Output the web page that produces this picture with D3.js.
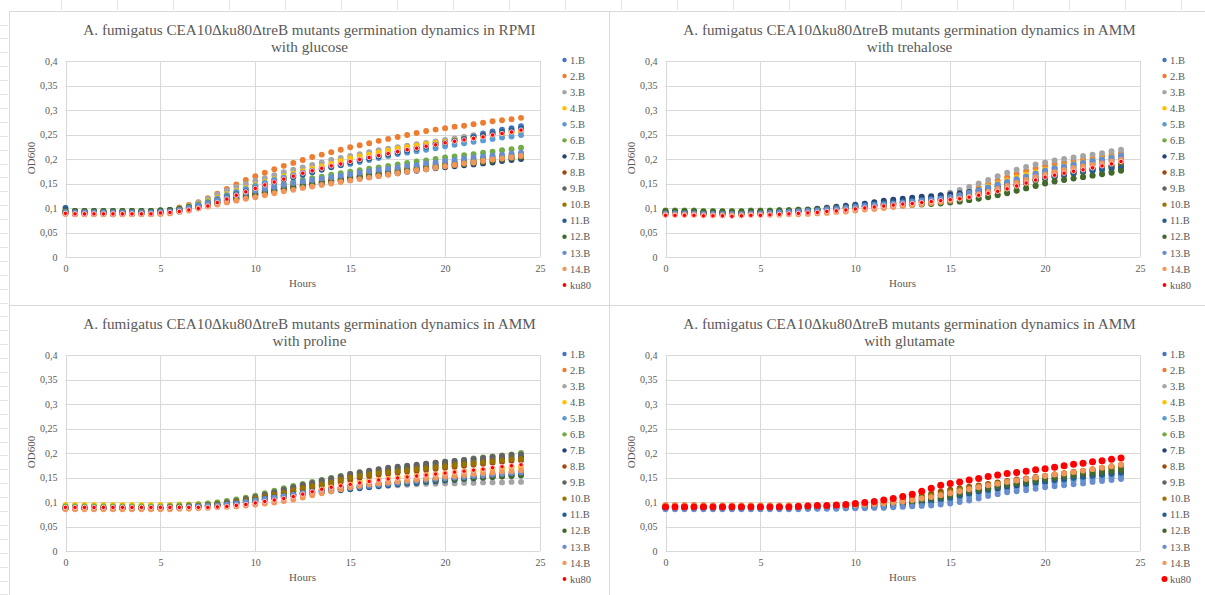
<!DOCTYPE html>
<html>
<head>
<meta charset="utf-8">
<script src="https://cdn.jsdelivr.net/npm/d3@7"></script>
<style>
  html, body { margin: 0; padding: 0; background: #ffffff; }
  svg { display: block; font-family: "Liberation Serif", "Times New Roman", serif; }
</style>
</head>
<body>
<svg id="chart" width="1205" height="595"></svg>
<script>
// Sampling times (h)
const hours = [0,0.5,1,1.5,2,2.5,3,3.5,4,4.5,5,5.5,6,6.5,7,7.5,8,8.5,9,9.5,10,10.5,11,11.5,12,12.5,13,13.5,14,14.5,15,15.5,16,16.5,17,17.5,18,18.5,19,19.5,20,20.5,21,21.5,22,22.5,23,23.5,24];

const strains = ["1.B","2.B","3.B","4.B","5.B","6.B","7.B","8.B","9.B","10.B","11.B","12.B","13.B","14.B","ku80"];
const strainColors = ["#4472C4","#ED7D31","#A5A5A5","#FFC000","#5B9BD5","#70AD47","#264478","#9E480E","#636363","#997300","#255E91","#43682B","#698ED0","#F1975A","#FF0000"];

const yTickValues = [0,0.05,0.1,0.15,0.2,0.25,0.3,0.35,0.4];
const xTickValues = [0,5,10,15,20,25];

const titleMain = [
  "A. fumigatus CEA10\u0394ku80\u0394treB mutants germination dynamics in RPMI",
  "A. fumigatus CEA10\u0394ku80\u0394treB mutants germination dynamics in AMM",
  "A. fumigatus CEA10\u0394ku80\u0394treB mutants germination dynamics in AMM",
  "A. fumigatus CEA10\u0394ku80\u0394treB mutants germination dynamics in AMM"
];
const titleSub = ["with glucose","with trehalose","with proline","with glutamate"];

// OD600, one row per strain (1.B … 14.B, ku80), one value per sampling time
const odGlucoseRPMI = [
  [0.093,0.092,0.092,0.092,0.092,0.091,0.092,0.092,0.092,0.092,0.093, 0.094,0.097,0.101,0.106,0.112,0.119,0.126,0.133,0.139,0.145, 0.151,0.157,0.162,0.167,0.172,0.177,0.182,0.187,0.191,0.196, 0.200,0.204,0.208,0.212,0.216,0.220,0.224,0.228,0.232,0.236, 0.240,0.244,0.248,0.252,0.256,0.260,0.263,0.267],
  [0.092,0.091,0.091,0.091,0.091,0.090,0.091,0.091,0.091,0.092,0.093, 0.096,0.101,0.106,0.112,0.120,0.129,0.139,0.148,0.157,0.165, 0.172,0.179,0.186,0.192,0.198,0.204,0.209,0.214,0.219,0.224, 0.228,0.232,0.237,0.241,0.245,0.249,0.253,0.257,0.260,0.263, 0.266,0.268,0.271,0.274,0.277,0.279,0.281,0.284],
  [0.090,0.089,0.089,0.089,0.089,0.088,0.089,0.089,0.089,0.089,0.090, 0.093,0.098,0.104,0.111,0.119,0.127,0.136,0.143,0.149,0.155, 0.161,0.167,0.173,0.178,0.183,0.188,0.193,0.198,0.202,0.206, 0.210,0.214,0.218,0.221,0.224,0.227,0.230,0.233,0.236,0.239, 0.242,0.245,0.247,0.250,0.252,0.254,0.256,0.258],
  [0.095,0.094,0.094,0.094,0.094,0.094,0.094,0.094,0.094,0.094,0.095, 0.096,0.099,0.103,0.108,0.114,0.121,0.128,0.135,0.141,0.147, 0.153,0.159,0.165,0.170,0.175,0.180,0.185,0.190,0.196,0.201, 0.205,0.209,0.213,0.217,0.221,0.224,0.227,0.230,0.233,0.235, 0.238,0.241,0.244,0.246,0.249,0.251,0.253,0.255],
  [0.092,0.091,0.091,0.091,0.091,0.091,0.091,0.091,0.091,0.091,0.092, 0.094,0.097,0.101,0.106,0.112,0.119,0.126,0.133,0.139,0.145, 0.151,0.157,0.162,0.167,0.172,0.176,0.180,0.184,0.187,0.190, 0.194,0.198,0.202,0.206,0.210,0.213,0.216,0.219,0.222,0.226, 0.229,0.232,0.235,0.238,0.241,0.244,0.246,0.249],
  [0.094,0.094,0.094,0.094,0.094,0.094,0.094,0.094,0.094,0.094,0.095, 0.096,0.099,0.103,0.107,0.112,0.117,0.123,0.128,0.132,0.136, 0.140,0.145,0.149,0.153,0.157,0.161,0.164,0.168,0.171,0.174, 0.177,0.180,0.183,0.186,0.189,0.192,0.195,0.197,0.200,0.203, 0.205,0.208,0.210,0.213,0.215,0.218,0.220,0.223],
  [0.091,0.090,0.090,0.090,0.090,0.090,0.090,0.090,0.090,0.090,0.091, 0.092,0.094,0.097,0.101,0.105,0.109,0.113,0.117,0.121,0.125, 0.129,0.133,0.137,0.140,0.143,0.146,0.149,0.152,0.155,0.157, 0.160,0.163,0.166,0.169,0.171,0.174,0.176,0.179,0.181,0.183, 0.185,0.187,0.189,0.191,0.193,0.196,0.198,0.200],
  [0.090,0.089,0.089,0.089,0.089,0.089,0.089,0.089,0.089,0.089,0.090, 0.091,0.094,0.097,0.101,0.105,0.110,0.115,0.119,0.123,0.127, 0.131,0.135,0.139,0.142,0.145,0.148,0.151,0.154,0.157,0.160, 0.163,0.166,0.169,0.171,0.174,0.176,0.179,0.181,0.184,0.186, 0.188,0.190,0.193,0.195,0.197,0.200,0.202,0.205],
  [0.089,0.088,0.088,0.088,0.088,0.087,0.088,0.088,0.088,0.088,0.089, 0.091,0.094,0.098,0.102,0.107,0.112,0.117,0.121,0.125,0.129, 0.133,0.137,0.141,0.144,0.147,0.150,0.153,0.156,0.159,0.162, 0.165,0.168,0.171,0.173,0.176,0.178,0.181,0.183,0.186,0.188, 0.191,0.193,0.195,0.198,0.200,0.202,0.204,0.207],
  [0.093,0.092,0.092,0.092,0.092,0.092,0.092,0.092,0.092,0.092,0.093, 0.094,0.097,0.100,0.104,0.109,0.114,0.119,0.124,0.128,0.132, 0.136,0.140,0.144,0.147,0.150,0.153,0.156,0.159,0.162,0.165, 0.168,0.171,0.174,0.176,0.179,0.181,0.184,0.186,0.189,0.191, 0.194,0.196,0.198,0.201,0.203,0.205,0.207,0.210],
  [0.100,0.094,0.094,0.094,0.094,0.094,0.094,0.094,0.094,0.094,0.095, 0.096,0.098,0.101,0.105,0.110,0.116,0.122,0.128,0.134,0.140, 0.146,0.152,0.158,0.163,0.168,0.173,0.178,0.183,0.188,0.193, 0.197,0.201,0.205,0.209,0.213,0.217,0.221,0.225,0.229,0.233, 0.237,0.241,0.245,0.249,0.252,0.255,0.259,0.262],
  [0.094,0.094,0.094,0.094,0.094,0.094,0.094,0.094,0.094,0.094,0.095, 0.096,0.098,0.101,0.104,0.108,0.112,0.116,0.120,0.124,0.128, 0.132,0.136,0.139,0.142,0.145,0.148,0.151,0.154,0.157,0.160, 0.163,0.165,0.168,0.171,0.173,0.176,0.178,0.181,0.183,0.185, 0.188,0.190,0.192,0.194,0.196,0.199,0.201,0.203],
  [0.092,0.091,0.091,0.091,0.091,0.091,0.091,0.091,0.091,0.091,0.092, 0.093,0.096,0.100,0.105,0.110,0.116,0.121,0.126,0.131,0.135, 0.139,0.143,0.147,0.151,0.154,0.157,0.160,0.163,0.166,0.169, 0.172,0.175,0.178,0.180,0.183,0.186,0.188,0.191,0.193,0.196, 0.198,0.201,0.203,0.205,0.207,0.209,0.211,0.213],
  [0.088,0.087,0.087,0.087,0.087,0.087,0.087,0.087,0.087,0.087,0.088, 0.089,0.092,0.095,0.099,0.103,0.107,0.111,0.115,0.119,0.122, 0.126,0.130,0.134,0.137,0.141,0.144,0.147,0.150,0.153,0.156, 0.159,0.162,0.165,0.168,0.171,0.174,0.177,0.179,0.182,0.185, 0.188,0.191,0.193,0.196,0.199,0.201,0.203,0.206],
  [0.089,0.088,0.088,0.088,0.088,0.088,0.088,0.088,0.088,0.088,0.090, 0.091,0.093,0.096,0.099,0.104,0.111,0.118,0.126,0.133,0.140, 0.147,0.153,0.159,0.165,0.171,0.176,0.181,0.186,0.190,0.195, 0.199,0.203,0.207,0.211,0.215,0.219,0.222,0.226,0.229,0.233, 0.236,0.239,0.242,0.245,0.249,0.252,0.255,0.259]
];

const odTrehaloseAMM = [
  [0.090,0.090,0.090,0.090,0.089,0.089,0.089,0.089,0.089,0.090,0.090, 0.091,0.092,0.093,0.094,0.095,0.097,0.098,0.100,0.101,0.103, 0.104,0.106,0.108,0.110,0.112,0.114,0.115,0.117,0.119,0.121, 0.125,0.129,0.134,0.139,0.144,0.150,0.155,0.160,0.166,0.171, 0.175,0.179,0.183,0.186,0.190,0.193,0.197,0.200],
  [0.088,0.088,0.088,0.088,0.087,0.087,0.087,0.087,0.087,0.088,0.088, 0.089,0.090,0.091,0.092,0.093,0.095,0.096,0.098,0.099,0.101, 0.103,0.105,0.107,0.109,0.111,0.113,0.115,0.117,0.119,0.123, 0.129,0.135,0.142,0.149,0.156,0.163,0.170,0.176,0.181,0.186, 0.190,0.193,0.196,0.199,0.202,0.205,0.209,0.212],
  [0.092,0.092,0.092,0.092,0.091,0.091,0.091,0.091,0.091,0.092,0.092, 0.093,0.094,0.095,0.096,0.097,0.099,0.101,0.103,0.105,0.107, 0.109,0.111,0.113,0.115,0.117,0.119,0.121,0.123,0.125,0.131, 0.137,0.143,0.150,0.157,0.165,0.172,0.178,0.184,0.189,0.193, 0.197,0.200,0.203,0.206,0.209,0.212,0.216,0.219],
  [0.091,0.091,0.091,0.091,0.090,0.090,0.090,0.090,0.090,0.091,0.091, 0.092,0.092,0.093,0.094,0.095,0.097,0.098,0.100,0.101,0.103, 0.105,0.106,0.108,0.110,0.112,0.114,0.116,0.117,0.119,0.122, 0.127,0.132,0.138,0.144,0.150,0.156,0.162,0.168,0.173,0.178, 0.182,0.186,0.190,0.193,0.197,0.200,0.204,0.207],
  [0.090,0.090,0.090,0.090,0.089,0.089,0.089,0.089,0.089,0.090,0.090, 0.091,0.091,0.092,0.093,0.094,0.096,0.097,0.099,0.100,0.102, 0.104,0.106,0.108,0.110,0.112,0.114,0.116,0.118,0.120,0.123, 0.127,0.132,0.137,0.142,0.148,0.153,0.159,0.164,0.170,0.175, 0.180,0.184,0.188,0.191,0.195,0.198,0.202,0.205],
  [0.095,0.095,0.095,0.095,0.094,0.094,0.094,0.094,0.094,0.095,0.095, 0.095,0.096,0.096,0.097,0.097,0.098,0.099,0.100,0.101,0.102, 0.103,0.104,0.105,0.105,0.106,0.107,0.108,0.109,0.110,0.112, 0.114,0.117,0.120,0.124,0.128,0.132,0.136,0.141,0.146,0.151, 0.155,0.158,0.161,0.164,0.167,0.170,0.174,0.178],
  [0.091,0.091,0.091,0.091,0.090,0.090,0.090,0.090,0.090,0.091,0.091, 0.092,0.093,0.094,0.095,0.096,0.098,0.100,0.102,0.104,0.106, 0.109,0.112,0.115,0.117,0.119,0.121,0.123,0.124,0.126,0.128, 0.130,0.133,0.136,0.140,0.144,0.148,0.153,0.157,0.162,0.166, 0.170,0.173,0.176,0.178,0.180,0.182,0.184,0.186],
  [0.089,0.089,0.089,0.089,0.088,0.088,0.088,0.088,0.088,0.089,0.089, 0.090,0.091,0.092,0.093,0.094,0.095,0.097,0.098,0.100,0.101, 0.103,0.105,0.106,0.108,0.110,0.111,0.113,0.114,0.116,0.118, 0.121,0.124,0.128,0.132,0.137,0.142,0.147,0.152,0.157,0.162, 0.166,0.170,0.173,0.176,0.180,0.183,0.187,0.190],
  [0.092,0.092,0.092,0.092,0.091,0.091,0.091,0.091,0.091,0.092,0.092, 0.093,0.093,0.094,0.095,0.096,0.097,0.099,0.100,0.102,0.103, 0.105,0.106,0.108,0.109,0.111,0.112,0.114,0.115,0.117,0.119, 0.122,0.125,0.129,0.133,0.137,0.142,0.147,0.152,0.157,0.161, 0.165,0.168,0.172,0.175,0.178,0.181,0.185,0.188],
  [0.090,0.090,0.090,0.090,0.089,0.089,0.089,0.089,0.089,0.090,0.090, 0.091,0.091,0.092,0.093,0.094,0.095,0.096,0.098,0.099,0.101, 0.102,0.104,0.105,0.107,0.108,0.110,0.111,0.113,0.115,0.117, 0.120,0.123,0.127,0.131,0.135,0.140,0.145,0.150,0.155,0.159, 0.163,0.166,0.170,0.173,0.176,0.179,0.182,0.185],
  [0.091,0.091,0.091,0.091,0.090,0.090,0.090,0.090,0.090,0.091,0.091, 0.092,0.092,0.093,0.094,0.095,0.097,0.098,0.100,0.102,0.104, 0.106,0.108,0.110,0.112,0.114,0.116,0.117,0.119,0.121,0.123, 0.125,0.128,0.131,0.135,0.139,0.143,0.148,0.153,0.157,0.161, 0.165,0.168,0.171,0.174,0.176,0.178,0.180,0.182],
  [0.094,0.094,0.094,0.094,0.093,0.093,0.093,0.093,0.093,0.094,0.094, 0.094,0.095,0.095,0.096,0.096,0.097,0.098,0.099,0.100,0.101, 0.101,0.102,0.103,0.104,0.105,0.106,0.107,0.108,0.109,0.111, 0.113,0.116,0.119,0.122,0.126,0.130,0.135,0.140,0.145,0.150, 0.154,0.157,0.160,0.163,0.166,0.169,0.172,0.176],
  [0.089,0.089,0.089,0.089,0.088,0.088,0.088,0.088,0.088,0.089,0.089, 0.090,0.091,0.092,0.093,0.094,0.095,0.097,0.098,0.100,0.102, 0.104,0.106,0.107,0.109,0.111,0.113,0.115,0.117,0.119,0.122, 0.126,0.131,0.136,0.141,0.147,0.152,0.158,0.164,0.170,0.176, 0.181,0.185,0.189,0.192,0.196,0.199,0.203,0.207],
  [0.086,0.086,0.086,0.086,0.085,0.085,0.085,0.085,0.085,0.086,0.086, 0.086,0.086,0.087,0.087,0.088,0.089,0.090,0.092,0.093,0.095, 0.097,0.098,0.100,0.102,0.104,0.106,0.108,0.110,0.112,0.115, 0.119,0.123,0.128,0.133,0.139,0.145,0.151,0.157,0.163,0.168, 0.173,0.177,0.181,0.185,0.188,0.191,0.195,0.198],
  [0.085,0.085,0.085,0.085,0.084,0.084,0.084,0.083,0.084,0.085,0.085, 0.086,0.087,0.088,0.089,0.090,0.091,0.093,0.094,0.096,0.098, 0.100,0.102,0.104,0.106,0.108,0.109,0.111,0.113,0.115,0.117, 0.119,0.122,0.126,0.130,0.134,0.139,0.145,0.151,0.157,0.163, 0.167,0.171,0.175,0.178,0.182,0.186,0.190,0.195]
];

const odProlineAMM = [
  [0.088,0.088,0.088,0.088,0.088,0.088,0.088,0.088,0.088,0.088,0.088, 0.089,0.089,0.090,0.091,0.092,0.093,0.095,0.097,0.100,0.103, 0.106,0.109,0.112,0.115,0.118,0.120,0.122,0.124,0.126,0.128, 0.130,0.132,0.134,0.136,0.138,0.140,0.141,0.142,0.143,0.145, 0.146,0.148,0.149,0.151,0.152,0.154,0.155,0.157],
  [0.087,0.087,0.087,0.087,0.087,0.087,0.087,0.087,0.087,0.087,0.087, 0.088,0.089,0.090,0.091,0.092,0.094,0.096,0.099,0.102,0.105, 0.108,0.111,0.114,0.117,0.120,0.123,0.125,0.127,0.129,0.131, 0.133,0.135,0.137,0.139,0.141,0.142,0.144,0.146,0.147,0.149, 0.150,0.152,0.153,0.155,0.156,0.158,0.159,0.161],
  [0.087,0.087,0.087,0.087,0.087,0.087,0.087,0.087,0.087,0.087,0.087, 0.088,0.088,0.089,0.090,0.091,0.092,0.094,0.096,0.099,0.102, 0.105,0.108,0.111,0.114,0.117,0.120,0.123,0.125,0.127,0.128, 0.130,0.131,0.132,0.133,0.134,0.135,0.136,0.137,0.137,0.138, 0.138,0.139,0.139,0.140,0.140,0.140,0.141,0.141],
  [0.094,0.094,0.094,0.094,0.094,0.094,0.094,0.094,0.094,0.094,0.094, 0.094,0.095,0.095,0.096,0.097,0.099,0.101,0.104,0.107,0.110, 0.113,0.116,0.119,0.122,0.125,0.128,0.131,0.134,0.137,0.140, 0.142,0.144,0.146,0.148,0.150,0.152,0.154,0.156,0.157,0.159, 0.161,0.163,0.164,0.166,0.168,0.169,0.171,0.172],
  [0.089,0.089,0.089,0.089,0.089,0.089,0.089,0.089,0.089,0.089,0.089, 0.089,0.090,0.091,0.092,0.093,0.094,0.096,0.098,0.101,0.104, 0.107,0.110,0.113,0.116,0.118,0.120,0.122,0.124,0.126,0.128, 0.130,0.132,0.134,0.136,0.138,0.140,0.142,0.143,0.145,0.146, 0.148,0.149,0.151,0.152,0.154,0.155,0.157,0.158],
  [0.091,0.091,0.091,0.091,0.091,0.091,0.091,0.091,0.091,0.091,0.091, 0.092,0.093,0.094,0.095,0.097,0.099,0.102,0.105,0.109,0.113, 0.118,0.123,0.128,0.133,0.137,0.141,0.145,0.149,0.153,0.157, 0.160,0.163,0.166,0.168,0.171,0.173,0.175,0.178,0.180,0.182, 0.184,0.186,0.189,0.191,0.193,0.195,0.197,0.200],
  [0.087,0.087,0.087,0.087,0.087,0.087,0.087,0.087,0.087,0.087,0.087, 0.088,0.089,0.090,0.091,0.093,0.095,0.097,0.100,0.104,0.108, 0.113,0.118,0.123,0.128,0.132,0.136,0.140,0.144,0.148,0.152, 0.156,0.159,0.162,0.165,0.167,0.169,0.171,0.173,0.175,0.177, 0.179,0.181,0.183,0.185,0.187,0.189,0.191,0.192],
  [0.088,0.088,0.088,0.088,0.088,0.088,0.088,0.088,0.088,0.088,0.088, 0.089,0.090,0.091,0.092,0.093,0.095,0.097,0.100,0.103,0.106, 0.110,0.114,0.118,0.122,0.126,0.130,0.134,0.138,0.142,0.146, 0.150,0.153,0.156,0.158,0.160,0.162,0.164,0.166,0.168,0.170, 0.172,0.174,0.176,0.178,0.180,0.182,0.184,0.185],
  [0.088,0.088,0.088,0.088,0.088,0.088,0.088,0.088,0.088,0.088,0.088, 0.089,0.090,0.091,0.092,0.094,0.096,0.099,0.102,0.106,0.110, 0.115,0.120,0.125,0.130,0.135,0.139,0.144,0.148,0.152,0.157, 0.161,0.164,0.167,0.170,0.172,0.174,0.176,0.178,0.180,0.182, 0.184,0.186,0.188,0.190,0.192,0.194,0.196,0.197],
  [0.088,0.088,0.088,0.088,0.088,0.088,0.088,0.088,0.088,0.088,0.088, 0.089,0.090,0.091,0.092,0.093,0.095,0.097,0.100,0.103,0.107, 0.111,0.115,0.119,0.124,0.128,0.132,0.136,0.140,0.145,0.150, 0.153,0.156,0.159,0.161,0.163,0.165,0.167,0.169,0.171,0.173, 0.175,0.177,0.179,0.181,0.183,0.185,0.187,0.188],
  [0.087,0.087,0.087,0.087,0.087,0.087,0.087,0.087,0.087,0.087,0.087, 0.088,0.088,0.089,0.090,0.091,0.092,0.094,0.096,0.098,0.101, 0.104,0.107,0.110,0.113,0.116,0.118,0.120,0.122,0.124,0.126, 0.128,0.130,0.132,0.134,0.136,0.138,0.139,0.141,0.142,0.144, 0.145,0.147,0.148,0.150,0.151,0.153,0.154,0.156],
  [0.088,0.088,0.088,0.088,0.088,0.088,0.088,0.088,0.088,0.088,0.088, 0.089,0.089,0.090,0.091,0.092,0.094,0.096,0.098,0.101,0.104, 0.107,0.110,0.113,0.116,0.119,0.122,0.125,0.128,0.130,0.132, 0.134,0.135,0.137,0.138,0.140,0.141,0.142,0.143,0.145,0.146, 0.147,0.148,0.149,0.150,0.151,0.152,0.153,0.154],
  [0.088,0.088,0.088,0.088,0.088,0.088,0.088,0.088,0.088,0.088,0.088, 0.088,0.089,0.090,0.091,0.092,0.093,0.095,0.097,0.100,0.103, 0.106,0.109,0.112,0.115,0.118,0.121,0.123,0.125,0.127,0.129, 0.131,0.133,0.135,0.137,0.139,0.141,0.143,0.145,0.147,0.148, 0.150,0.151,0.153,0.154,0.156,0.157,0.159,0.160],
  [0.085,0.085,0.085,0.085,0.085,0.085,0.085,0.085,0.085,0.085,0.085, 0.085,0.086,0.086,0.087,0.088,0.089,0.090,0.091,0.093,0.095, 0.097,0.099,0.102,0.105,0.109,0.114,0.118,0.122,0.126,0.130, 0.133,0.136,0.138,0.140,0.142,0.144,0.146,0.148,0.150,0.152, 0.153,0.155,0.157,0.159,0.160,0.162,0.163,0.165],
  [0.089,0.089,0.089,0.089,0.089,0.089,0.089,0.089,0.089,0.089,0.089, 0.089,0.089,0.089,0.089,0.089,0.090,0.091,0.093,0.095,0.098, 0.101,0.104,0.107,0.111,0.116,0.121,0.126,0.130,0.133,0.136, 0.139,0.142,0.145,0.147,0.149,0.151,0.153,0.155,0.157,0.159, 0.161,0.163,0.165,0.167,0.170,0.172,0.174,0.176]
];

const odGlutamateAMM = [
  [0.087,0.087,0.087,0.087,0.087,0.087,0.087,0.087,0.087,0.087,0.087, 0.087,0.087,0.087,0.087,0.087,0.087,0.088,0.088,0.088,0.089, 0.089,0.090,0.091,0.092,0.094,0.096,0.098,0.101,0.104,0.107, 0.111,0.115,0.119,0.123,0.126,0.129,0.132,0.135,0.137,0.140, 0.142,0.144,0.146,0.148,0.150,0.152,0.154,0.155],
  [0.094,0.094,0.094,0.094,0.094,0.093,0.093,0.093,0.093,0.093,0.093, 0.093,0.093,0.093,0.093,0.093,0.093,0.093,0.093,0.093,0.094, 0.095,0.096,0.098,0.100,0.102,0.105,0.108,0.111,0.115,0.119, 0.123,0.127,0.130,0.134,0.137,0.140,0.143,0.146,0.149,0.152, 0.155,0.158,0.161,0.163,0.166,0.169,0.172,0.175],
  [0.090,0.090,0.090,0.090,0.090,0.090,0.090,0.090,0.090,0.090,0.090, 0.090,0.090,0.090,0.090,0.090,0.090,0.090,0.091,0.091,0.092, 0.093,0.094,0.096,0.098,0.100,0.103,0.106,0.109,0.113,0.117, 0.120,0.124,0.127,0.130,0.133,0.136,0.139,0.142,0.145,0.148, 0.151,0.153,0.156,0.158,0.161,0.163,0.166,0.168],
  [0.092,0.092,0.092,0.092,0.092,0.092,0.092,0.092,0.092,0.092,0.092, 0.092,0.092,0.092,0.092,0.092,0.092,0.092,0.092,0.093,0.093, 0.094,0.095,0.097,0.099,0.101,0.104,0.107,0.110,0.114,0.118, 0.121,0.125,0.128,0.131,0.134,0.137,0.140,0.143,0.146,0.149, 0.152,0.155,0.157,0.160,0.163,0.165,0.168,0.170],
  [0.086,0.086,0.086,0.086,0.086,0.086,0.086,0.086,0.086,0.086,0.086, 0.086,0.086,0.086,0.086,0.086,0.087,0.087,0.087,0.087,0.088, 0.088,0.089,0.090,0.091,0.092,0.093,0.095,0.097,0.099,0.102, 0.106,0.110,0.114,0.118,0.122,0.125,0.128,0.131,0.134,0.137, 0.139,0.141,0.143,0.145,0.146,0.148,0.150,0.151],
  [0.092,0.092,0.092,0.092,0.092,0.092,0.092,0.092,0.092,0.092,0.092, 0.092,0.092,0.092,0.092,0.092,0.092,0.092,0.093,0.093,0.094, 0.095,0.096,0.098,0.101,0.105,0.110,0.114,0.118,0.121,0.124, 0.127,0.130,0.133,0.136,0.139,0.141,0.144,0.146,0.149,0.151, 0.154,0.156,0.158,0.161,0.163,0.165,0.168,0.170],
  [0.088,0.088,0.088,0.088,0.088,0.088,0.088,0.088,0.088,0.088,0.088, 0.088,0.088,0.088,0.088,0.088,0.088,0.089,0.089,0.089,0.090, 0.090,0.091,0.092,0.094,0.096,0.098,0.101,0.104,0.107,0.110, 0.114,0.118,0.122,0.125,0.128,0.131,0.134,0.137,0.140,0.142, 0.145,0.147,0.150,0.152,0.154,0.156,0.158,0.160],
  [0.091,0.091,0.091,0.091,0.091,0.091,0.091,0.091,0.091,0.091,0.091, 0.091,0.091,0.091,0.091,0.091,0.091,0.091,0.092,0.092,0.093, 0.094,0.095,0.097,0.100,0.104,0.108,0.112,0.116,0.121,0.125, 0.128,0.131,0.134,0.137,0.140,0.143,0.146,0.148,0.151,0.153, 0.156,0.158,0.160,0.163,0.165,0.167,0.170,0.172],
  [0.089,0.089,0.089,0.089,0.089,0.089,0.089,0.089,0.089,0.089,0.089, 0.089,0.089,0.089,0.089,0.090,0.090,0.090,0.090,0.091,0.091, 0.092,0.093,0.095,0.097,0.099,0.102,0.105,0.108,0.112,0.116, 0.119,0.122,0.125,0.128,0.131,0.134,0.137,0.140,0.143,0.146, 0.148,0.151,0.153,0.156,0.158,0.160,0.163,0.165],
  [0.091,0.091,0.091,0.091,0.091,0.091,0.091,0.091,0.091,0.091,0.091, 0.091,0.091,0.091,0.091,0.091,0.091,0.092,0.092,0.093,0.093, 0.094,0.095,0.097,0.099,0.102,0.105,0.109,0.113,0.117,0.121, 0.125,0.128,0.132,0.135,0.138,0.141,0.144,0.147,0.150,0.153, 0.156,0.159,0.162,0.164,0.167,0.170,0.173,0.176],
  [0.088,0.088,0.088,0.088,0.088,0.088,0.088,0.088,0.088,0.088,0.088, 0.088,0.088,0.088,0.088,0.088,0.088,0.088,0.089,0.089,0.089, 0.090,0.090,0.091,0.092,0.094,0.096,0.098,0.101,0.104,0.108, 0.113,0.118,0.122,0.126,0.130,0.133,0.136,0.139,0.141,0.143, 0.146,0.148,0.150,0.152,0.154,0.156,0.158,0.160],
  [0.090,0.090,0.090,0.090,0.090,0.090,0.090,0.090,0.090,0.090,0.090, 0.090,0.090,0.090,0.090,0.090,0.090,0.090,0.091,0.091,0.092, 0.092,0.093,0.094,0.096,0.098,0.100,0.103,0.106,0.109,0.113, 0.117,0.121,0.125,0.128,0.132,0.135,0.138,0.141,0.144,0.147, 0.149,0.152,0.154,0.157,0.159,0.161,0.163,0.165],
  [0.085,0.085,0.085,0.085,0.085,0.085,0.085,0.085,0.085,0.085,0.085, 0.085,0.085,0.085,0.085,0.086,0.086,0.086,0.086,0.087,0.087, 0.087,0.088,0.088,0.089,0.090,0.091,0.092,0.093,0.095,0.097, 0.100,0.103,0.107,0.112,0.116,0.120,0.122,0.124,0.127,0.130, 0.132,0.134,0.136,0.138,0.141,0.143,0.145,0.147],
  [0.094,0.094,0.093,0.093,0.093,0.093,0.093,0.093,0.093,0.093,0.093, 0.093,0.093,0.093,0.093,0.093,0.093,0.093,0.093,0.093,0.094, 0.095,0.096,0.097,0.099,0.101,0.104,0.107,0.110,0.114,0.118, 0.122,0.126,0.130,0.134,0.137,0.141,0.144,0.147,0.150,0.153, 0.156,0.158,0.161,0.164,0.167,0.170,0.173,0.176],
  [0.090,0.090,0.090,0.090,0.090,0.090,0.090,0.090,0.090,0.090,0.090, 0.090,0.090,0.090,0.091,0.092,0.093,0.093,0.094,0.095,0.097, 0.099,0.101,0.104,0.107,0.111,0.116,0.122,0.128,0.134,0.138, 0.141,0.145,0.148,0.152,0.155,0.158,0.160,0.163,0.166,0.168, 0.171,0.174,0.177,0.179,0.182,0.184,0.187,0.190]
];

// ---------------------------------------------------------------------------
const TEXT = "#595959";
const GRID = "#d9d9d9";
const SERIF = '"Liberation Serif", "Times New Roman", serif';
const svg = d3.select("#chart");

// faint worksheet cells showing around the chart objects
const sheet = svg.append("g").attr("stroke", "#e4e4e4").attr("stroke-width", 1);
sheet.selectAll("line.row").data(d3.range(24.5, 595, 13.9)).join("line")
  .attr("x1", 0).attr("x2", 8).attr("y1", d => Math.round(d) + 0.5).attr("y2", d => Math.round(d) + 0.5);
sheet.selectAll("line.col").data(d3.range(61, 1205, 56)).join("line")
  .attr("y1", 0).attr("y2", 10).attr("x1", d => Math.round(d) + 0.5).attr("x2", d => Math.round(d) + 0.5);

const panels = [
  { data: odGlucoseRPMI,  ox: 9,   oy: 11,  w: 600, h: 294, bigKu: false },
  { data: odTrehaloseAMM, ox: 609, oy: 11,  w: 600, h: 294, bigKu: false },
  { data: odProlineAMM,   ox: 9,   oy: 305, w: 600, h: 294, bigKu: false },
  { data: odGlutamateAMM, ox: 609, oy: 305, w: 600, h: 294, bigKu: true }
];

const fmt = v => String(+v.toFixed(2)).replace(".", ",");

panels.forEach((p, pi) => {
  const g = svg.append("g").attr("transform", `translate(${p.ox},${p.oy})`);

  // chart frame
  g.append("rect").attr("x", 0.5).attr("y", 0.5).attr("width", p.w).attr("height", p.h)
    .attr("fill", "#ffffff").attr("stroke", GRID);

  const left = 56.5, right = 531, top = 50, bottom = 246;
  const x = d3.scaleLinear().domain([0, 25]).range([left, right]);
  const y = d3.scaleLinear().domain([0, 0.4]).range([bottom, top]);

  // gridlines
  g.append("g").selectAll("line").data(yTickValues).join("line")
    .attr("x1", left).attr("x2", right)
    .attr("y1", d => Math.round(y(d)) + 0.5).attr("y2", d => Math.round(y(d)) + 0.5)
    .attr("stroke", GRID);
  g.append("g").selectAll("line").data(xTickValues).join("line")
    .attr("y1", top).attr("y2", bottom)
    .attr("x1", d => Math.round(x(d)) + 0.5).attr("x2", d => Math.round(x(d)) + 0.5)
    .attr("stroke", GRID);

  // axes (labels only; the lines are the gridlines)
  const yAxis = g.append("g").attr("transform", `translate(${left},0)`)
    .call(d3.axisLeft(y).tickValues(yTickValues).tickFormat(fmt).tickSize(0).tickPadding(8));
  const xAxis = g.append("g").attr("transform", `translate(0,${bottom})`)
    .call(d3.axisBottom(x).tickValues(xTickValues).tickFormat(d3.format("d")).tickSize(0).tickPadding(8));
  [xAxis, yAxis].forEach(a => {
    a.attr("font-family", SERIF);
    a.select(".domain").remove();
    a.selectAll("text").attr("fill", TEXT).attr("font-size", 10).attr("font-family", SERIF);
  });

  // title
  const title = g.append("text").attr("text-anchor", "middle").attr("fill", TEXT)
    .attr("font-size", 15.2).attr("font-family", SERIF);
  title.append("tspan").attr("x", 300.5).attr("y", 23.5).text(titleMain[pi]);
  title.append("tspan").attr("x", 300.5).attr("y", 40.5).text(titleSub[pi]);

  // axis titles
  g.append("text").attr("transform", `translate(26,147) rotate(-90)`)
    .attr("text-anchor", "middle").attr("fill", TEXT).attr("font-size", 11)
    .attr("font-family", SERIF).text("OD600");
  g.append("text").attr("x", 293.5).attr("y", 276).attr("text-anchor", "middle")
    .attr("fill", TEXT).attr("font-size", 11).attr("font-family", SERIF).text("Hours");

  // markers, later strains drawn on top
  p.data.forEach((vals, si) => {
    const isKu = strains[si] === "ku80";
    const pts = hours.map((t, j) => ({ t, v: vals[j] }));
    const sel = g.append("g").selectAll("circle").data(pts).join("circle")
      .attr("cx", d => x(d.t)).attr("cy", d => y(d.v))
      .attr("fill", strainColors[si]);
    if (isKu && !p.bigKu) sel.attr("r", 2.2).attr("stroke", "#ffc4c4").attr("stroke-width", 1);
    else if (isKu) sel.attr("r", 3.5);
    else sel.attr("r", 2.95);
  });

  // legend
  const lg = g.append("g");
  strains.forEach((name, si) => {
    const ly = 49 + si * 16.07;
    const isKu = name === "ku80";
    lg.append("circle").attr("cx", 555.5).attr("cy", ly)
      .attr("r", isKu ? (p.bigKu ? 3 : 1.9) : 2.2).attr("fill", strainColors[si]);
    lg.append("text").attr("x", 561).attr("y", ly).attr("dy", "0.35em")
      .attr("fill", TEXT).attr("font-size", 10.5).attr("font-family", SERIF).text(name);
  });
});
</script>
</body>
</html>
